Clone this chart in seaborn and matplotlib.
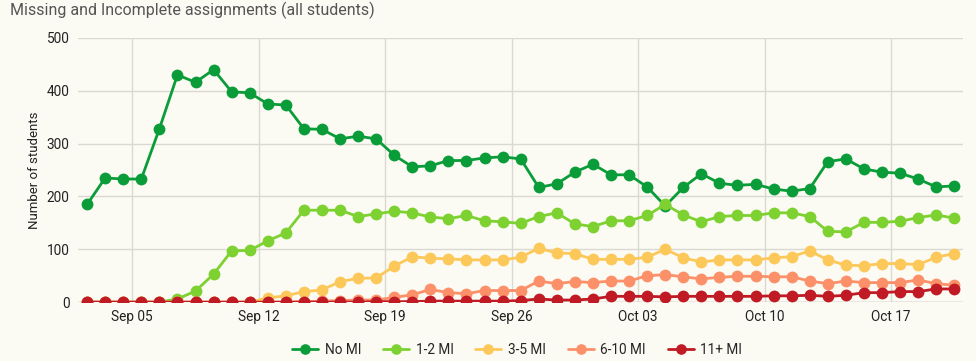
import numpy as np
import pandas as pd
import matplotlib.pyplot as plt
import seaborn as sns

# Daily counts, Sep 02 .. Oct 20
dates = pd.date_range("2022-09-02", periods=49, freq="D")

no_mi = [185, 235, 233, 233, 328, 430, 416, 440, 398, 396, 375, 373, 328, 327, 309, 314, 309,
         278, 256, 258, 268, 268, 273, 275, 271, 217, 224, 246, 261, 241, 241, 218,
         182, 217, 243, 225, 221, 223, 214, 210, 215, 266, 271, 252, 246, 244, 233, 218, 220]
mi_1_2 = [0, 0, 0, 0, 0, 6, 21, 53, 97, 98, 116, 131, 174, 174, 174, 162, 167,
          172, 169, 161, 158, 164, 154, 152, 149, 162, 169, 148, 143, 154, 154, 164,
          185, 165, 152, 162, 164, 164, 169, 169, 162, 134, 133, 151, 151, 153, 160, 165, 159]
mi_3_5 = [0, 0, 0, 0, 0, 0, 0, 0, 0, 0, 8, 12, 20, 23, 39, 45, 46,
          68, 86, 83, 82, 80, 80, 80, 85, 102, 93, 92, 81, 81, 81, 85,
          100, 84, 76, 80, 80, 80, 84, 86, 97, 80, 70, 69, 73, 73, 71, 85, 92]
mi_6_10 = [0, 0, 0, 0, 0, 0, 0, 0, 0, 0, 0, 0, 1, 2, 3, 4, 4,
           9, 14, 24, 18, 16, 22, 22, 22, 40, 35, 39, 37, 40, 40, 50,
           52, 48, 44, 47, 49, 49, 48, 48, 40, 35, 40, 37, 37, 37, 42, 35, 32]
mi_11 = [0, 0, 0, 0, 0, 0, 0, 0, 0, 0, 0, 0, 0, 0, 0, 0, 1,
         1, 1, 2, 2, 2, 2, 2, 3, 6, 4, 4, 6, 11, 11, 11,
         10, 11, 11, 11, 11, 11, 12, 12, 13, 11, 13, 18, 18, 20, 20, 25, 25]

series = ["No MI", "1-2 MI", "3-5 MI", "6-10 MI", "11+ MI"]
colors = ["#0b9c3a", "#7dd130", "#fdc85a", "#fc9068", "#c01a24"]
tick_labels = ["Sep 05", "Sep 12", "Sep 19", "Sep 26", "Oct 03", "Oct 10", "Oct 17"]

df = pd.DataFrame({"date": dates, "No MI": no_mi, "1-2 MI": mi_1_2, "3-5 MI": mi_3_5,
                   "6-10 MI": mi_6_10, "11+ MI": mi_11})
df["date"] = df["date"] + pd.Timedelta(hours=12)
long_df = df.melt(id_vars="date", var_name="group", value_name="students")

bg = "#fbfaf3"
sns.set_style("whitegrid")
plt.rcParams["font.family"] = ["Roboto", "DejaVu Sans"]

fig = plt.figure(figsize=(9.76, 3.61), dpi=100, facecolor=bg)
ax = fig.add_axes([0.080, 0.163, 0.907, 0.732])
ax.set_facecolor(bg)

# later series drawn on top, as in the original
for name, col in zip(series, colors):
    sub = long_df[long_df["group"] == name]
    sns.lineplot(data=sub, x="date", y="students", ax=ax, color=col, linewidth=2.0,
                 marker="o", markersize=8.5, markeredgewidth=0, label=name, legend=False)

ax.set_ylim(0, 500)
ax.set_yticks([0, 100, 200, 300, 400, 500])
ax.set_xlim(dates[0], dates[-1] + pd.Timedelta(hours=24))
ticks = pd.to_datetime([pd.Timestamp(f"2022 {t}") for t in tick_labels])
ax.set_xticks(ticks)
ax.set_xticklabels(tick_labels)
ax.grid(True, color="#d9d8d1", linewidth=1.0)
for s in ax.spines.values():
    s.set_visible(False)
ax.axhline(0, color="#b8b8b2", linewidth=1.0, zorder=1)
ax.tick_params(axis="both", length=0, labelsize=9.8, colors="#222222", pad=6)
ax.set_xlabel("")
ax.set_ylabel("Number of students", fontsize=9.5, color="#222222", labelpad=4)

fig.text(0.010, 0.972, "Missing and Incomplete assignments (all students)", fontsize=11.5,
         color="#555555", va="center", ha="left")

handles, labels = ax.get_legend_handles_labels()
fig.legend(handles, labels, loc="center",
           bbox_to_anchor=(0.53, 0.03), ncol=5, frameon=False, fontsize=9.8,
           handlelength=1.9, columnspacing=1.6, handletextpad=0.5, markerscale=0.9)

fig.savefig("out.png", dpi=100, facecolor=bg)
